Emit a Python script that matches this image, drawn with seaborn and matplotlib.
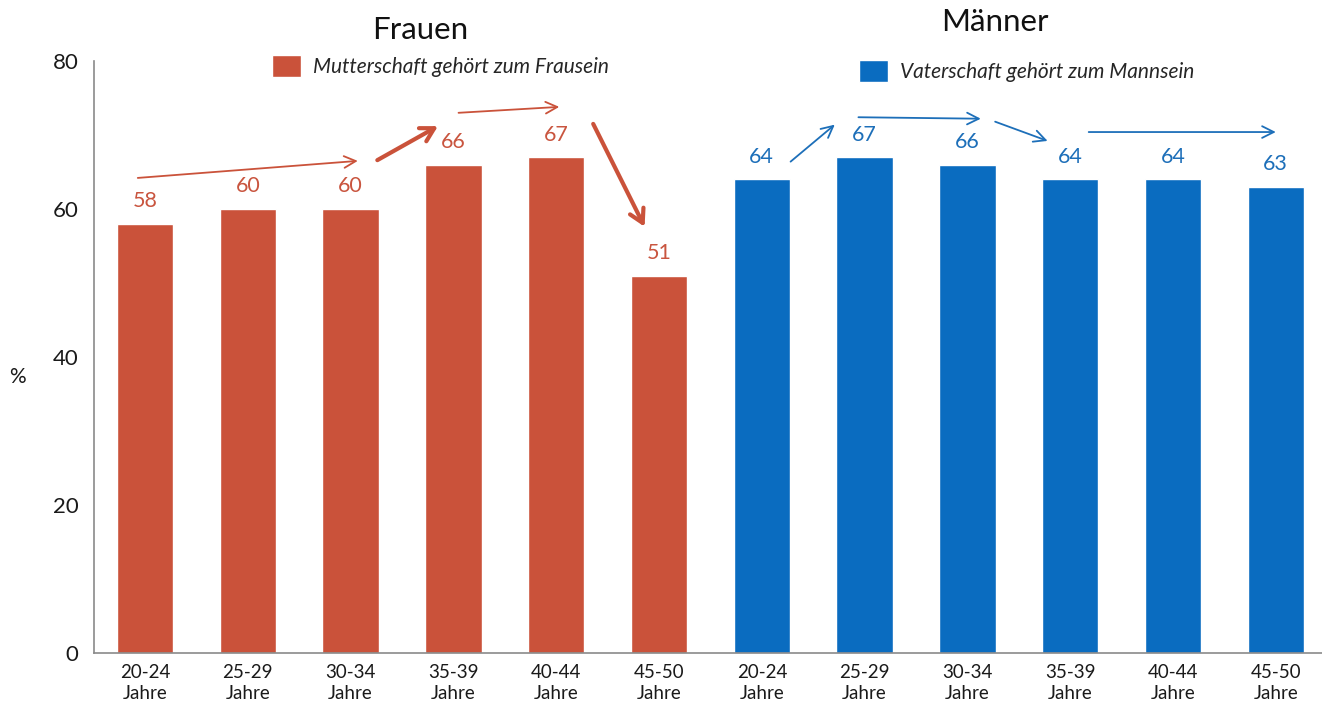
import matplotlib
matplotlib.use("Agg")
import matplotlib.pyplot as plt
import seaborn as sns
import pandas as pd
from matplotlib.patches import Patch

# ---- data ----
age_groups = ["20-24", "25-29", "30-34", "35-39", "40-44", "45-50"]
frauen_values = [58, 60, 60, 66, 67, 51]
maenner_values = [64, 67, 66, 64, 64, 63]
groups = ["Frauen", "Männer"]
legend_labels = ["Mutterschaft gehört zum Frausein", "Vaterschaft gehört zum Mannsein"]
y_ticks = [0, 20, 40, 60, 80]
# trend arrows: (x_start, y_start, x_end, y_end, thick)
frauen_arrows = [(-0.07, 64.2, 2.07, 66.5, False),
                 (2.26, 66.6, 2.85, 71.2, True),
                 (3.05, 73.0, 4.03, 73.8, False),
                 (4.36, 71.5, 4.86, 57.6, True)]
maenner_arrows = [(6.28, 66.4, 6.71, 71.4, False),
                  (6.94, 72.4, 8.13, 72.2, False),
                  (8.27, 71.8, 8.78, 69.2, False),
                  (9.18, 70.4, 11.0, 70.4, False)]

RED = "#CA523A"
BLUE = "#0A6CC0"
RED_TXT = "#C9553F"
BLUE_TXT = "#1D6FB9"

sns.set_theme(style="white")
plt.rcParams["font.family"] = ["Lato", "DejaVu Sans"]

keys = [f"F {a}" for a in age_groups] + [f"M {a}" for a in age_groups]
df = pd.DataFrame({
    "key": keys,
    "value": frauen_values + maenner_values,
    "group": [groups[0]] * len(age_groups) + [groups[1]] * len(age_groups),
})

fig = plt.figure(figsize=(13.22, 7.14), dpi=100)
ax = fig.add_axes([93.6 / 1322, 61 / 714, 1233.6 / 1322, 592 / 714])

sns.barplot(data=df, x="key", y="value", hue="group", order=keys,
            palette={groups[0]: RED, groups[1]: BLUE}, dodge=False,
            width=0.55, legend=False, ax=ax, saturation=1)

ax.set_xlim(-0.5, 11.5)
ax.set_ylim(0, 80)
ax.set_yticks(y_ticks)
ax.set_xticks(range(len(keys)))
ax.set_xticklabels([f"{a}\nJahre" for a in age_groups] * 2, fontsize=13.5,
                   color="#1a1a1a", linespacing=1.3)
ax.set_xticks([i - 0.5 for i in range(len(keys) + 1)], minor=True)
ax.tick_params(axis="x", which="major", length=0, pad=8)
ax.tick_params(axis="x", which="minor", length=6, width=1, color="#888888", direction="out")
ax.tick_params(axis="y", length=5, width=1, color="#888888", direction="out",
               labelsize=16, pad=6, labelcolor="#1a1a1a")
ax.set_xlabel("")
ax.set_ylabel("%", rotation=0, fontsize=15, color="#1a1a1a")
ax.yaxis.set_label_coords(-0.062, 0.45)
for s in ["top", "right"]:
    ax.spines[s].set_visible(False)
for s in ["left", "bottom"]:
    ax.spines[s].set_color("#8a8a8a")
    ax.spines[s].set_linewidth(1.2)

for cont, col in zip(ax.containers, [RED_TXT, BLUE_TXT]):
    ax.bar_label(cont, padding=9, color=col, fontsize=15.5)

for arrows, col in [(frauen_arrows, RED), (maenner_arrows, BLUE_TXT)]:
    for x0, y0, x1, y1, thick in arrows:
        lw = 3.0 if thick else 1.3
        hs = "->,head_length=0.8,head_width=0.45" if thick else "->,head_length=0.7,head_width=0.35"
        ax.annotate("", xy=(x1, y1), xytext=(x0, y0),
                    arrowprops=dict(arrowstyle=hs, lw=lw, color=col, shrinkA=0, shrinkB=0))

fig.text(420 / 1322, 1 - 30 / 714, groups[0], fontsize=22.5, ha="center", va="center", color="#111111")
fig.text(995 / 1322, 1 - 22 / 714, groups[1], fontsize=22.5, ha="center", va="center", color="#111111")

leg1 = fig.legend(handles=[Patch(facecolor=RED, label=legend_labels[0])],
                  loc="center left", bbox_to_anchor=(253 / 1322, 1 - 66 / 714),
                  frameon=False, prop={"style": "italic", "size": 15},
                  handlelength=1.4, handleheight=1.2, handletextpad=0.6)
leg2 = fig.legend(handles=[Patch(facecolor=BLUE, label=legend_labels[1])],
                  loc="center left", bbox_to_anchor=(840 / 1322, 1 - 71 / 714),
                  frameon=False, prop={"style": "italic", "size": 15},
                  handlelength=1.4, handleheight=1.2, handletextpad=0.6)

fig.savefig("out.png", dpi=100, facecolor="white")
